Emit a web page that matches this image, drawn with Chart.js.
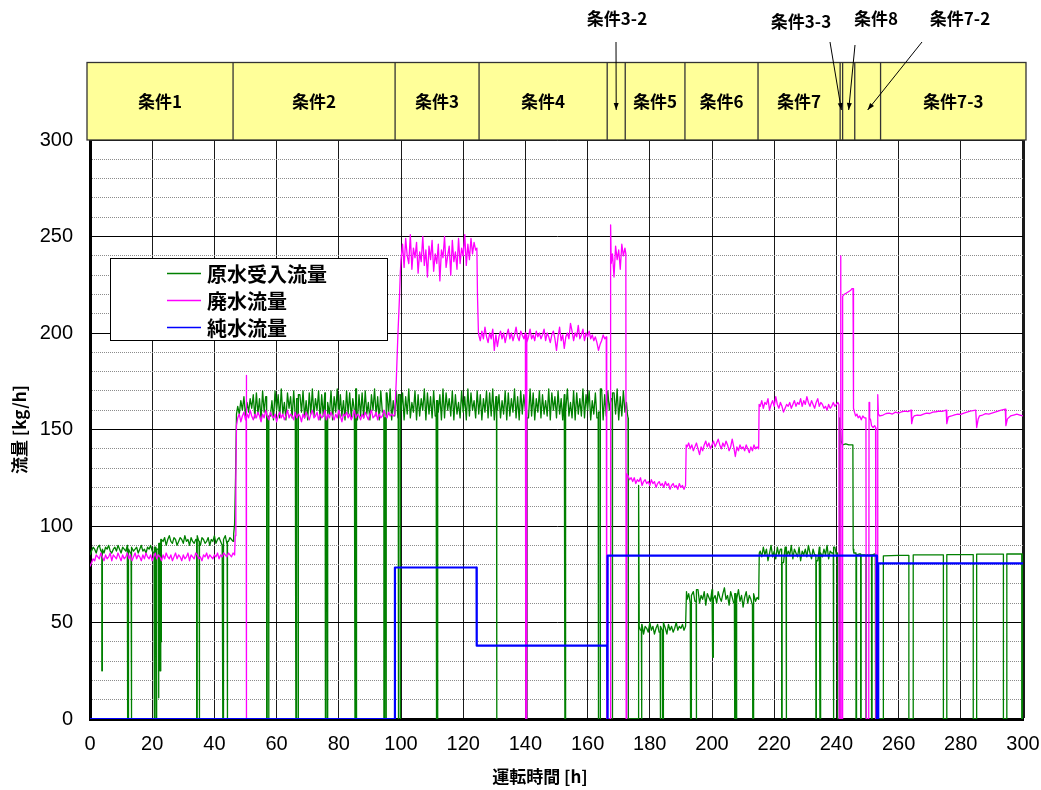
<!DOCTYPE html>
<html lang="ja">
<head>
<meta charset="utf-8">
<title>流量</title>
<script src="https://cdn.jsdelivr.net/npm/chart.js@4.4.1/dist/chart.umd.min.js"></script>
<style>
  html, body { margin: 0; padding: 0; background: #fff; }
  #flow { display: block; }
</style>
</head>
<body>
<canvas id="flow" width="1041" height="790"></canvas>
<script>
// SERIES NAMES
const seriesNames = ['原水受入流量', '廃水流量', '純水流量'];

// 原水受入流量 [kg/h], HALF-HOUR STEPS
const rawCond1a = [85, 87, 89, 88, 86, 89, 90, 87, 88, 86, 89, 88, 90, 87, 86, 88, 89, 87, 90, 88, 86, 89, 88, 87, 90, 88, 86, 89, 87, 88, 89, 86, 88, 90, 87, 88, 86, 89, 88, 90, 87, 86, 89, 88, 87]; // 0 - 22h
const rawCond1b = [91, 93, 92, 94, 90, 93, 95, 92, 91, 94, 93, 90, 92, 94, 93, 91, 95, 92, 93, 90, 94, 92, 91, 93, 95, 92, 90, 94, 93, 91, 92, 94, 90, 93, 92, 95, 91, 93, 94, 92, 90, 93, 95, 91, 92, 94, 93, 92]; // 22.5 - 46h
const rawBand = [ // 47.5 - 172.5h
  162, 158, 165, 160, 167, 157, 164, 159, 166, 161, 168, 156, 169, 158, 166, 155, 170, 159, 167, 156,
  169, 157, 165, 155, 170, 160, 168, 156, 171, 158, 164, 155, 169, 161, 167, 156, 170, 157, 166, 155,
  168, 159, 170, 156, 165, 155, 169, 158, 171, 157, 166, 160, 170, 155, 168, 157, 169, 156, 164, 158,
  170, 155, 167, 159, 171, 156, 168, 157, 165, 155, 170, 158, 169, 156, 166, 160, 171, 155, 168, 157,
  169, 156, 170, 158, 164, 155, 168, 160, 171, 157, 167, 155, 170, 159, 166, 156, 169, 158, 171, 155,
  165, 157, 170, 156, 168, 160, 169, 155, 167, 158, 171, 156, 164, 159, 170, 155, 168, 157, 166, 160,
  171, 155, 169, 158, 167, 156, 170, 157, 165, 159, 168, 155, 171, 156, 169, 160, 166, 157, 170, 155,
  168, 158, 164, 156, 170, 159, 167, 155, 171, 157, 169, 160, 165, 156, 170, 158, 168, 155, 166, 159,
  170, 156, 169, 157, 171, 155, 167, 160, 168, 156, 165, 158, 170, 155, 169, 157, 166, 159, 171, 156,
  167, 155, 170, 158, 168, 160, 164, 156, 171, 157, 169, 155, 166, 159, 170, 156, 168, 158, 165, 157,
  171, 155, 169, 160, 167, 156, 170, 158, 166, 155, 168, 159, 171, 157, 164, 156, 170, 155, 169, 158,
  166, 157, 171, 156, 168, 160, 170, 155, 165, 158, 169, 156, 167, 159, 171, 155, 168, 157, 170, 160,
  166, 156, 169, 158, 171, 155, 167, 157, 170, 159, 164
];
const rawCond5 = [46, 49, 44, 48, 47, 45, 50, 46, 48, 44, 47, 49, 45, 48, 46, 50, 47, 44, 49, 46, 48, 45, 47, 50, 46, 48, 47, 49, 46, 48]; // 177 - 191.5h
const rawCond6 = [62, 65, 60, 64, 66, 61, 63, 67, 60, 64, 62, 66, 59, 65, 63, 61, 67, 62, 64, 60, 66, 63, 61, 65, 68, 62, 64, 59, 66, 63, 60, 65, 62, 67, 61, 64, 58, 63, 66, 60, 64, 62, 59, 65, 61, 63]; // 192 - 214.5h
const rawCond7 = [87, 84, 89, 85, 88, 82, 86, 90, 84, 87, 83, 89, 85, 88, 86, 81, 89, 84, 87, 85, 90, 83, 88, 86, 84, 89, 82, 87, 85, 88, 84, 90, 86, 83, 88, 85, 87, 82, 89, 86, 84, 88, 85, 90, 83, 87, 86, 84, 89, 85]; // 215.5 - 240h
const rawSteps = [[46.2, 96], [46.5, 101], [46.8, 125], [47.1, 158], [172.8, 158], [173.0, 156], [173.1, 0], [176.3, 0], [176.4, 121], [176.6, 48], [191.8, 66], [215.0, 62], [215.2, 86]];
const rawTail = [[240.3, 86], [240.4, 0], [240.95, 0], [241.1, 156], [241.5, 144], [242.0, 142], [243.0, 142.5], [244.0, 142], [245.3, 142], [245.4, 88], [245.6, 86], [246.5, 85], [247.5, 85.5], [248.5, 85], [249.5, 85.5], [250.5, 85], [251.5, 85], [252.4, 85.5], [252.5, 85], [252.6, 0], [255.0, 0], [255.1, 84.5], [260, 84.8], [270, 85], [280, 85.2], [290, 85.4], [300, 85.5]];
// [from h, to h, lowest value]
const rawOutages = [
  [3.8, 3.95, 25], [12.1, 12.25, 0], [13.2, 13.35, 0], [20.6, 20.75, 0], [21.2, 21.35, 0], [22.0, 22.15, 11], [22.5, 22.65, 25], [22.8, 22.9, 40],
  [34.3, 34.45, 0], [35.1, 35.25, 0], [42.7, 42.85, 0], [44.1, 44.25, 0],
  [56.8, 56.95, 0], [57.4, 57.55, 0], [66.2, 66.35, 0], [66.9, 67.05, 0], [75.6, 75.75, 0], [76.2, 76.35, 0], [85.2, 85.35, 0], [85.6, 85.75, 0], [94.5, 94.65, 0], [95.1, 95.25, 0], [99.1, 99.25, 0], [99.7, 99.85, 0],
  [111.3, 111.45, 0], [111.7, 111.85, 0], [130.7, 130.85, 0], [140.4, 140.55, 0], [152.7, 152.85, 0], [163.4, 163.55, 0], [164.0, 164.15, 0], [167.9, 168.05, 0],
  [177.3, 177.45, 0], [183.3, 183.45, 0], [184.1, 184.25, 0], [193.1, 193.25, 0], [194.9, 195.05, 0], [200.2, 200.35, 32], [207.2, 207.35, 0], [207.7, 207.85, 0], [213.1, 213.25, 0],
  [222.4, 222.55, 0], [223.8, 223.95, 0], [233.4, 233.55, 0], [234.7, 234.85, 0], [239.0, 239.15, 0],
  [246.3, 246.45, 0], [247.8, 247.95, 0], [249.5, 249.65, 0], [251.3, 251.45, 0],
  [263.3, 264.7, 0], [274.4, 275.5, 0], [284.0, 285.1, 0], [293.7, 294.8, 0], [299.6, 299.9, 0]
];

// 廃水流量 [kg/h]
const wasteCond1 = [ // 0 - 46.5h
  79, 81, 83, 82, 85, 84, 83, 86, 84, 82, 85, 83, 84, 86, 82, 85, 84, 83, 86, 84,
  82, 85, 83, 84, 86, 83, 85, 82, 84, 86, 83, 85, 84, 82, 85, 83, 86, 84, 83, 85,
  82, 84, 86, 83, 85, 84, 82, 85, 83, 86, 84, 83, 85, 82, 84, 86, 83, 85, 84, 82,
  85, 83, 84, 86, 82, 85, 84, 83, 86, 85, 83, 84, 82, 85, 84, 86, 83, 85, 84, 83,
  85, 84, 86, 83, 85, 84, 86, 85, 84, 86, 85, 84, 86, 85
];
const wasteCond2 = [ // 47.5 - 97.5h
  156, 158, 154, 157, 159, 155, 158, 156, 160, 157, 155, 158, 156, 159, 157, 154, 158, 156, 160, 157,
  155, 159, 157, 156, 158, 154, 157, 159, 156, 158, 155, 157, 160, 156, 158, 157, 155, 159, 156, 158,
  157, 154, 158, 156, 159, 157, 155, 158, 160, 156, 157, 159, 155, 158, 156, 157, 160, 155, 158, 156,
  159, 157, 155, 158, 156, 160, 157, 154, 158, 157, 159, 156, 158, 155, 157, 160, 156, 158, 157, 155,
  158, 156, 159, 157, 155, 158, 160, 156, 157, 159, 155, 158, 156, 157, 160, 158, 156, 159, 157, 158,
  157
];
const wasteCond3 = [ // 100 - 124h
  238, 246, 234, 249, 240, 236, 251, 233, 244, 239, 247, 231, 242, 237, 250, 235, 243, 229, 245, 238,
  248, 232, 241, 236, 246, 227, 243, 239, 250, 234, 240, 245, 230, 248, 237, 242, 233, 249, 236, 244,
  240, 251, 235, 246, 238, 249, 241, 247, 243
];
const wasteCond4 = [ // 125 - 166h
  199, 196, 201, 197, 203, 198, 195, 200, 197, 202, 191, 199, 193, 198, 201, 197, 200, 195, 199, 202,
  197, 200, 196, 199, 203, 198, 196, 201, 199, 197, 200, 195, 198, 202, 197, 199, 196, 201, 198, 200,
  197, 199, 202, 196, 200, 198, 195, 199, 201, 197, 191, 198, 203, 196, 199, 192, 198, 200, 197, 205,
  201, 196, 200, 198, 204, 197, 199, 202, 196, 200, 198, 201, 197, 199, 196, 198, 195, 191, 194, 196,
  199, 197, 198
];
const wasteCond32 = [241, 229, 245, 238, 243, 233, 246, 240, 244]; // 168 - 172h
const wasteCond5 = [126, 124, 125, 123, 125, 122, 124, 123, 125, 121, 123, 124, 122, 123, 121, 124, 122, 123, 120, 122, 123, 121, 122, 120, 123, 121, 122, 119, 121, 122, 120, 121, 119, 122, 120, 121, 119, 121]; // 173 - 191.5h
const wasteCond6 = [141, 143, 140, 142, 139, 141, 143, 140, 137, 141, 139, 142, 144, 141, 143, 140, 142, 144, 141, 143, 145, 142, 140, 143, 141, 144, 142, 139, 141, 145, 141, 136, 141, 139, 142, 140, 141, 139, 142, 140, 138, 141, 139, 142, 140, 141]; // 192 - 214.5h
const wasteCond7 = [162, 165, 161, 164, 163, 166, 160, 163, 165, 162, 167, 163, 161, 164, 162, 159, 161, 163, 162, 164, 161, 163, 165, 162, 164, 163, 166, 162, 165, 163, 167, 164, 162, 165, 163, 161, 164, 166, 162, 164, 163, 161, 162, 160, 163, 161, 162, 164, 162, 163, 164]; // 215.5 - 240.5h
const wasteSteps = [
  [46.7, 95], [46.9, 125], [47.1, 152],
  [50.2, 157], [50.22, 0], [50.3, 0], [50.32, 178], [50.4, 157],
  [98.0, 158], [98.5, 176], [99.0, 199], [99.5, 218], [99.8, 232],
  [124.4, 244], [124.6, 219], [124.9, 200],
  [140.1, 199], [140.15, 0], [140.35, 0], [140.4, 199],
  [166.1, 198], [166.2, 0], [167.3, 0], [167.4, 256], [167.6, 236],
  [172.3, 241], [172.4, 0], [172.55, 0], [172.6, 127],
  [191.6, 121], [191.7, 142],
  [215.0, 140], [215.15, 163],
  [240.8, 163], [240.9, 0], [241.3, 0], [241.4, 240], [241.55, 0], [241.85, 0], [242.0, 219], [242.5, 220], [243.0, 220.5], [243.5, 221], [244.0, 221.5], [244.5, 222], [245.0, 223], [245.35, 223], [245.5, 161]
];
const wasteTail = [
  [245.8, 159], [246.2, 157], [246.6, 158], [247.0, 156], [247.5, 157], [248.0, 155], [248.5, 157], [249.0, 156], [249.5, 156],
  [249.6, 0], [250.4, 0], [250.5, 164], [250.7, 156], [251.0, 155], [251.3, 152], [251.8, 151], [252.3, 152], [252.6, 151],
  [252.7, 0], [253.2, 0], [253.3, 168], [253.5, 158], [254, 157], [255, 157.5], [256, 158.3], [257, 158.5], [258, 158], [259, 159], [260, 158.5], [261, 159.2], [262, 159.5], [263, 159.3], [264.0, 160],
  [264.2, 153], [264.6, 156], [265, 157], [266, 157.5], [267, 157.3], [268, 158], [269, 158.5], [270, 158.3], [271, 159], [272, 159.2], [273, 159.5], [274, 159.4], [275.3, 160],
  [275.5, 153], [276, 156.5], [277, 157], [278, 157.6], [279, 158], [280, 157.8], [281, 158.5], [282, 159], [283, 159.5], [284.8, 160],
  [285.1, 151], [285.6, 155.5], [286, 157], [287, 157.5], [288, 158.2], [289, 158], [290, 158.5], [291, 159], [292, 159.5], [293, 160], [294.3, 160.5],
  [294.5, 152], [295, 155.5], [296, 157], [297, 157.5], [298, 158], [299, 157.5], [300, 157]
];

// 純水流量 [kg/h]
const pureSteps = [[0, 0], [98.0, 0], [98.05, 78.5], [124.3, 78.5], [124.35, 38], [166.3, 38], [166.35, 0], [166.45, 0], [166.5, 84.6], [253.0, 84.6], [253.05, 0], [253.4, 0], [253.45, 80.6], [300, 80.6]];

// CONDITIONS (HOURS)
const condEdges = [0, 46, 98.1, 125.1, 166.3, 172.1, 191.3, 214.8, 241.2, 242.0, 245.9, 254.2, 300];
const condNames = ['条件1', '条件2', '条件3', '条件4', '', '条件5', '条件6', '条件7', '', '', '', '条件7-3'];
const calloutNames = ['条件3-2', '条件3-3', '条件8', '条件7-2'];
const calloutBoxes = [4, 8, 9, 10];

// AXES
const xMax = 300, xStep = 20;
const yMax = 300, yStep = 10, yLabelEvery = 50;

// HELPERS
function seq(start, step, values) {
	return values.map((v, i) => ({ x: start + i * step, y: v }));
}
function pairs(list) {
	return list.map(p => ({ x: p[0], y: p[1] }));
}
function merge(parts) {
	return [].concat(...parts).sort((a, b) => a.x - b.x);
}
function cutOutages(points, outages) {
	let out = points;
	outages.forEach(o => {
		const before = out.filter(p => p.x < o[0]).pop();
		const after = out.find(p => p.x > o[1]);
		out = out.filter(p => p.x < o[0] || p.x > o[1]);
		out.push({ x: o[0], y: before.y }, { x: o[0], y: o[2] }, { x: o[1], y: o[2] }, { x: o[1], y: after ? after.y : o[2] });
		out.sort((a, b) => a.x - b.x);
	});
	return out;
}

const rawData = cutOutages(merge([
	seq(0, 0.5, rawCond1a), seq(22.5, 0.5, rawCond1b), seq(47.5, 0.5, rawBand),
	seq(177, 0.5, rawCond5), seq(192, 0.5, rawCond6), seq(215.5, 0.5, rawCond7),
	pairs(rawSteps), pairs(rawTail)
]), rawOutages);

const wasteData = merge([
	seq(0, 0.5, wasteCond1), seq(47.5, 0.5, wasteCond2), seq(100, 0.5, wasteCond3),
	seq(125, 0.5, wasteCond4), seq(168, 0.5, wasteCond32), seq(173, 0.5, wasteCond5),
	seq(192, 0.5, wasteCond6), seq(215.5, 0.5, wasteCond7),
	pairs(wasteSteps), pairs(wasteTail)
]);

const pureData = pairs(pureSteps);

// CONDITION BAND, CALLOUTS, LEGEND, X TITLE
const bandTop = 62.5;
const calloutText = [[617, 19], [801, 22], [876, 19], [960, 19]];
const calloutTail = [[616, 42], [830, 42], [855, 45], [922, 42]];
const calloutTipY = 110;
const legendBox = { left: 110, top: 258, width: 277, height: 82 };
const cjk = '"Noto Sans CJK JP", "Noto Sans CJK SC", sans-serif';

function arrow(ctx, x1, y1, x2, y2) {
	const a = Math.atan2(y2 - y1, x2 - x1);
	ctx.beginPath();
	ctx.moveTo(x1, y1);
	ctx.lineTo(x2, y2);
	ctx.stroke();
	ctx.beginPath();
	ctx.moveTo(x2, y2);
	ctx.lineTo(x2 - 7 * Math.cos(a) + 2.5 * Math.sin(a), y2 - 7 * Math.sin(a) - 2.5 * Math.cos(a));
	ctx.lineTo(x2 - 7 * Math.cos(a) - 2.5 * Math.sin(a), y2 - 7 * Math.sin(a) + 2.5 * Math.cos(a));
	ctx.closePath();
	ctx.fill();
}

const extrasPlugin = {
	id: 'extras',
	afterDatasetsDraw(chart) {
		const ctx = chart.ctx;
		// LEGEND BOX
		ctx.save();
		ctx.fillStyle = '#fff';
		ctx.fillRect(legendBox.left, legendBox.top, legendBox.width, legendBox.height);
		ctx.strokeStyle = '#000';
		ctx.lineWidth = 1;
		ctx.strokeRect(legendBox.left + 0.5, legendBox.top + 0.5, legendBox.width, legendBox.height);
		ctx.font = 'bold 20px ' + cjk;
		ctx.textBaseline = 'middle';
		chart.data.datasets.forEach((ds, i) => {
			const y = legendBox.top + 15.5 + i * 27;
			ctx.strokeStyle = ds.borderColor;
			ctx.lineWidth = 1.5;
			ctx.beginPath();
			ctx.moveTo(legendBox.left + 57, y);
			ctx.lineTo(legendBox.left + 91, y);
			ctx.stroke();
			ctx.fillStyle = '#000';
			ctx.fillText(ds.label, legendBox.left + 97, y + 1);
		});
		ctx.restore();
	},
	afterDraw(chart) {
		const ctx = chart.ctx;
		const xs = chart.scales.x;
		const bottom = chart.chartArea.top;
		const px = condEdges.map(h => xs.getPixelForValue(h));
		px[0] -= 3;
		px[px.length - 1] += 3;
		ctx.save();
		ctx.fillStyle = '#ffff99';
		ctx.fillRect(px[0], bandTop, px[px.length - 1] - px[0], bottom - bandTop);
		ctx.strokeStyle = '#333';
		ctx.lineWidth = 1.3;
		ctx.strokeRect(px[0], bandTop, px[px.length - 1] - px[0], bottom - bandTop);
		for (let i = 1; i < px.length - 1; i++) {
			ctx.beginPath();
			ctx.moveTo(px[i], bandTop);
			ctx.lineTo(px[i], bottom);
			ctx.stroke();
		}
		ctx.fillStyle = '#000';
		ctx.font = 'bold 17px ' + cjk;
		ctx.textAlign = 'center';
		ctx.textBaseline = 'middle';
		condNames.forEach((name, i) => {
			if (name) ctx.fillText(name, (px[i] + px[i + 1]) / 2, (bandTop + bottom) / 2);
		});
		// CALLOUTS
		ctx.strokeStyle = '#000';
		ctx.lineWidth = 1;
		calloutNames.forEach((name, i) => {
			const b = calloutBoxes[i];
			ctx.fillText(name, calloutText[i][0], calloutText[i][1]);
			arrow(ctx, calloutTail[i][0], calloutTail[i][1], (px[b] + px[b + 1]) / 2, calloutTipY);
		});
		// X TITLE
		ctx.fillText('運転時間 [h]', 540, 777);
		ctx.restore();
	}
};

Chart.defaults.font.family = '"Liberation Sans", ' + cjk;
Chart.defaults.color = '#000';

const flowChart = new Chart(document.getElementById('flow').getContext('2d'), {
	type: 'line',
	data: {
		datasets: [{
			label: seriesNames[0],
			data: rawData,
			borderColor: '#008000',
			borderWidth: 1.3,
			order: 3
		}, {
			label: seriesNames[1],
			data: wasteData,
			borderColor: '#ff00ff',
			borderWidth: 1.3,
			order: 2
		}, {
			label: seriesNames[2],
			data: pureData,
			borderColor: '#0000ff',
			borderWidth: 2.2,
			order: 1
		}]
	},
	options: {
		responsive: false,
		animation: false,
		devicePixelRatio: 1,
		elements: {
			point: { radius: 0 },
			line: { tension: 0, fill: false, borderJoinStyle: 'round' }
		},
		layout: {
			padding: { left: 0, top: 140, right: 18, bottom: 0 }
		},
		plugins: {
			legend: { display: false },
			tooltip: { enabled: false }
		},
		scales: {
			x: {
				type: 'linear',
				min: 0,
				max: xMax,
				afterFit: s => { s.height = 71; s.paddingLeft = 0; s.paddingRight = 0; },
				ticks: { stepSize: xStep, padding: 13, maxRotation: 0, autoSkip: false, font: { size: 20 } },
				grid: {
					drawTicks: false,
					color: '#1a1a1a',
					lineWidth: ctx => (ctx.tick && ctx.tick.value === xMax) ? 3 : 1
				},
				border: { color: '#000', width: 3 }
			},
			y: {
				min: 0,
				max: yMax,
				afterFit: s => { s.width = 90; s.paddingTop = 0; s.paddingBottom = 0; },
				ticks: {
					stepSize: yStep,
					autoSkip: false,
					padding: 17,
					font: { size: 20 },
					callback: v => (v % yLabelEvery === 0 ? v : '')
				},
				grid: {
					drawTicks: false,
					color: ctx => (ctx.tick && ctx.tick.value % yLabelEvery !== 0) ? '#8c8c8c' : '#000',
					lineWidth: 1
				},
				border: {
					color: '#000',
					width: 3,
					dash: ctx => (ctx.tick && ctx.tick.value % yLabelEvery !== 0) ? [1, 1] : []
				},
				title: {
					display: true,
					text: '流量 [kg/h]',
					font: { family: cjk, size: 17, weight: 'bold' },
					padding: { top: 9, bottom: 0 }
				}
			}
		}
	},
	plugins: [extrasPlugin]
});
</script>
</body>
</html>
